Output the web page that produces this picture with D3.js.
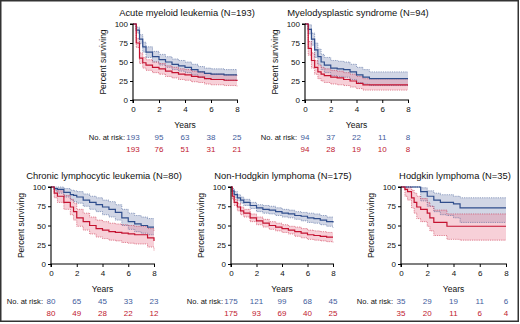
<!DOCTYPE html>
<html><head><meta charset="utf-8">
<script src="https://cdn.jsdelivr.net/npm/d3@7"></script>
<style>
html,body{margin:0;padding:0;background:#fff;}
svg{display:block;}
text{font-family:"Liberation Sans",Arial,sans-serif;}
.narrow{font-family:"Liberation Sans Narrow","Arial Narrow","Liberation Sans",sans-serif;}
</style></head>
<body>
<svg id="c" width="520" height="324"></svg>
<script>
// ---------- DATA ----------
const panelTitles = ["Acute myeloid leukemia (N=193)","Myelodysplastic syndrome (N=94)","Chronic lymphocytic leukemia (N=80)","Non-Hodgkin lymphoma (N=175)","Hodgkin lymphoma (N=35)"];
const xTicks = [0,2,4,6,8];
const yTicks = [0,25,50,75,100];

const amlTimes = [0,0.25,0.5,0.75,1,1.5,2,2.5,3,3.5,4,4.5,5,5.5,6,7,8];
const amlBlue   = [100,92,80,70,63,57,53,50,47,45,43,40,37,35,34,33,33];
const amlBlueLo = [100,88,74,63,56,50,46,43,40,38,36,33,30,28,27,26,26];
const amlBlueHi = [100,96,86,76,70,64,60,57,54,52,50,47,44,42,41,40,40];
const amlRed    = [100,75,55,49,46,43,41,38,36,34,33,31,30,28,27,26,25];
const amlRedLo  = [100,69,48,42,39,36,34,31,29,27,26,24,23,21,20,19,18];
const amlRedHi  = [100,81,62,56,53,50,48,45,43,41,40,38,37,35,34,33,32];
const amlRiskBlue = [193,95,63,38,25];
const amlRiskRed  = [193,76,51,31,21];

const mdsTimes = [0,0.25,0.5,0.75,1,1.25,1.5,2,2.5,3,3.5,4,4.5,5,6,7,8];
const mdsBlue   = [100,93,80,66,57,50,46,42,41,40,37,33,30,28,28,28,28];
const mdsBlueLo = [100,87,72,56,47,40,36,32,31,30,27,23,21,19,19,19,19];
const mdsBlueHi = [100,99,88,75,67,60,56,52,51,50,47,43,40,37,37,37,37];
const mdsRed    = [100,68,52,43,37,34,32,30,29,27,25,22,20,20,20,20,20];
const mdsRedLo  = [100,59,42,34,28,25,23,21,20,19,17,15,13,13,13,13,13];
const mdsRedHi  = [100,77,62,52,46,43,41,39,38,36,34,31,28,28,28,28,28];
const mdsRiskBlue = [94,37,22,11,8];
const mdsRiskRed  = [94,28,19,10,8];

const cllTimes = [0,0.25,0.5,1,1.5,1.75,2,2.5,3,3.5,4,4.5,5,5.5,6,6.5,7,7.5,8];
const cllBlue   = [100,98,97,93,90,89,87,83,80,77,74,71,67,60,55,52,50,48,48];
const cllBlueLo = [100,95,92,87,83,81,79,75,71,68,64,61,57,50,45,42,40,38,38];
const cllBlueHi = [100,100,100,98,96,95,94,91,88,86,83,81,77,71,66,63,61,59,59];
const cllRed    = [100,92,88,80,74,68,60,55,50,46,44,42,41,40,39,38,38,34,30];
const cllRedLo  = [100,86,80,71,64,57,49,44,39,35,33,31,30,28,27,26,26,22,17];
const cllRedHi  = [100,98,95,89,84,79,71,66,61,57,55,53,52,51,50,49,49,46,43];
const cllRiskBlue = [80,65,45,33,23];
const cllRiskRed  = [80,49,28,22,12];

const nhlTimes = [0,0.1,0.25,0.5,0.75,1,1.5,2,2.5,3,3.5,4,4.5,5,5.5,6,6.5,7,7.5,8];
const nhlBlue   = [100,95,90,86,83,80,76,73,71,70,68,66,65,63,62,60,59,57,55,54];
const nhlBlueLo = [100,92,86,82,79,76,72,68,66,65,63,61,60,58,56,54,53,51,49,47];
const nhlBlueHi = [100,98,94,90,87,84,80,77,76,75,73,71,70,68,67,66,65,63,61,61];
const nhlRed    = [100,88,80,74,69,66,60,56,53,50,48,46,44,42,40,38,37,36,35,35];
const nhlRedLo  = [100,84,76,69,64,61,55,51,48,45,43,41,39,36,34,32,31,30,29,28];
const nhlRedHi  = [100,92,84,79,74,71,65,61,58,55,53,51,49,48,46,44,43,42,41,41];
const nhlRiskBlue = [175,121,99,68,45];
const nhlRiskRed  = [175,93,69,40,25];

const hlTimes = [0,0.3,0.5,0.8,1,1.2,1.5,2,2.2,2.5,3,3.5,4,4.5,8];
const hlBlue   = [100,100,100,100,100,100,94,88,88,83,80,80,78,73,73];
const hlBlueLo = [100,100,100,100,100,100,82,75,75,68,64,63,60,54,54];
const hlBlueHi = [100,100,100,100,100,100,99,95,95,92,90,90,88,86,86];
const hlRed    = [100,97,94,86,80,74,71,66,60,54,54,49,49,49,49];
const hlRedLo  = [100,88,83,73,66,59,55,49,43,37,37,32,32,31,31];
const hlRedHi  = [100,100,100,96,92,88,85,80,75,70,70,65,65,65,65];
const hlRiskBlue = [35,29,19,11,6];
const hlRiskRed  = [35,20,11,6,4];

// ---------- LAYOUT ----------
const layout = [
  {x0:133,x1:237,yT:24,yB:100,titleX:187,titleY:16},
  {x0:305,x1:408,yT:24,yB:100,titleX:358,titleY:16},
  {x0:51, x1:154,yT:187,yB:264,titleX:104,titleY:179},
  {x0:231,x1:333,yT:187,yB:264,titleX:283,titleY:179},
  {x0:401,x1:506,yT:187,yB:264,titleX:455,titleY:179}
];
const panels = [
  {t:amlTimes,b:amlBlue,bl:amlBlueLo,bh:amlBlueHi,r:amlRed,rl:amlRedLo,rh:amlRedHi,rb:amlRiskBlue,rr:amlRiskRed},
  {t:mdsTimes,b:mdsBlue,bl:mdsBlueLo,bh:mdsBlueHi,r:mdsRed,rl:mdsRedLo,rh:mdsRedHi,rb:mdsRiskBlue,rr:mdsRiskRed},
  {t:cllTimes,b:cllBlue,bl:cllBlueLo,bh:cllBlueHi,r:cllRed,rl:cllRedLo,rh:cllRedHi,rb:cllRiskBlue,rr:cllRiskRed},
  {t:nhlTimes,b:nhlBlue,bl:nhlBlueLo,bh:nhlBlueHi,r:nhlRed,rl:nhlRedLo,rh:nhlRedHi,rb:nhlRiskBlue,rr:nhlRiskRed},
  {t:hlTimes,b:hlBlue,bl:hlBlueLo,bh:hlBlueHi,r:hlRed,rl:hlRedLo,rh:hlRedHi,rb:hlRiskBlue,rr:hlRiskRed}
];

const BLUE="#2f4d8c", RED="#c41230";
const BLUE_T="#3f5c9c", RED_T="#c0182f";
const BLUE_F="#8b98bd", RED_F="#eb8ea3";

const svg = d3.select("#c");
// outer frame
svg.append("rect").attr("x",0.75).attr("y",0.75).attr("width",517.5).attr("height",320.5)
  .attr("fill","none").attr("stroke","#333").attr("stroke-width",1.5);

panels.forEach((p,i)=>{
  const L = layout[i];
  const x = d3.scaleLinear().domain([0,8]).range([L.x0,L.x1]);
  const y = d3.scaleLinear().domain([0,100]).range([L.yB,L.yT]);
  const g = svg.append("g");
  const idx = d3.range(p.t.length);

  const area = (lo,hi)=>d3.area().curve(d3.curveStepAfter).x(k=>x(p.t[k])).y0(k=>y(lo[k])).y1(k=>y(hi[k]));
  const line = (v)=>d3.line().curve(d3.curveStepAfter).x(k=>x(p.t[k])).y(k=>y(v[k]));

  g.append("path").attr("d",area(p.bl,p.bh)(idx)).attr("fill",BLUE_F).attr("fill-opacity",0.4);
  g.append("path").attr("d",area(p.rl,p.rh)(idx)).attr("fill",RED_F).attr("fill-opacity",0.42);
  [[p.bl,BLUE],[p.bh,BLUE],[p.rl,RED],[p.rh,RED]].forEach(([v,c])=>{
    g.append("path").attr("d",line(v)(idx)).attr("fill","none").attr("stroke",c)
      .attr("stroke-width",0.8).attr("stroke-dasharray","0.8,1").attr("opacity",0.75);
  });
  g.append("path").attr("d",line(p.b)(idx)).attr("fill","none").attr("stroke",BLUE).attr("stroke-width",1.2);
  g.append("path").attr("d",line(p.r)(idx)).attr("fill","none").attr("stroke",RED).attr("stroke-width",1.2);

  // axes
  const ya = g.append("g").attr("transform",`translate(${L.x0},0)`)
    .call(d3.axisLeft(y).tickValues(yTicks).tickSize(3).tickPadding(2));
  const xa = g.append("g").attr("transform",`translate(0,${L.yB})`)
    .call(d3.axisBottom(x).tickValues(xTicks).tickSize(3).tickPadding(3));
  [ya,xa].forEach(a=>{
    a.select(".domain").attr("stroke","#000").attr("stroke-width",1.1);
    a.selectAll(".tick line").attr("stroke","#000");
    a.selectAll("text").attr("font-size",8).attr("fill","#111").style("font-family","'Liberation Sans',Arial,sans-serif");
  });
  ya.select(".domain").attr("d",`M-3,${L.yT}H0V${L.yB}`);
  xa.select(".domain").attr("d",`M${L.x0},3V0H${L.x1+1}`);

  // title
  g.append("text").attr("x",L.titleX).attr("y",L.titleY).attr("text-anchor","middle")
    .attr("font-size",9.4).attr("fill","#111").text(panelTitles[i]);
  // y label
  g.append("text").attr("class","narrow").attr("transform",`translate(${L.x0-27},${(L.yT+L.yB)/2}) rotate(-90)`)
    .attr("text-anchor","middle").attr("font-size",8.5).attr("fill","#111").text("Percent surviving");
  // x label
  g.append("text").attr("class","narrow").attr("x",(L.x0+L.x1)/2).attr("y",L.yB+28).attr("text-anchor","middle")
    .attr("font-size",8.5).attr("fill","#111").text("Years");
  // at risk
  g.append("text").attr("x",L.x0-8).attr("y",L.yB+40).attr("text-anchor","end")
    .attr("font-size",7.6).attr("fill","#111").text("No. at risk:");
  xTicks.forEach((tv,k)=>{
    g.append("text").attr("x",x(tv)).attr("y",L.yB+40).attr("text-anchor","middle")
      .attr("font-size",8).attr("fill",BLUE_T).text(p.rb[k]);
    g.append("text").attr("x",x(tv)).attr("y",L.yB+52).attr("text-anchor","middle")
      .attr("font-size",8).attr("fill",RED_T).text(p.rr[k]);
  });
});
</script>
</body></html>
